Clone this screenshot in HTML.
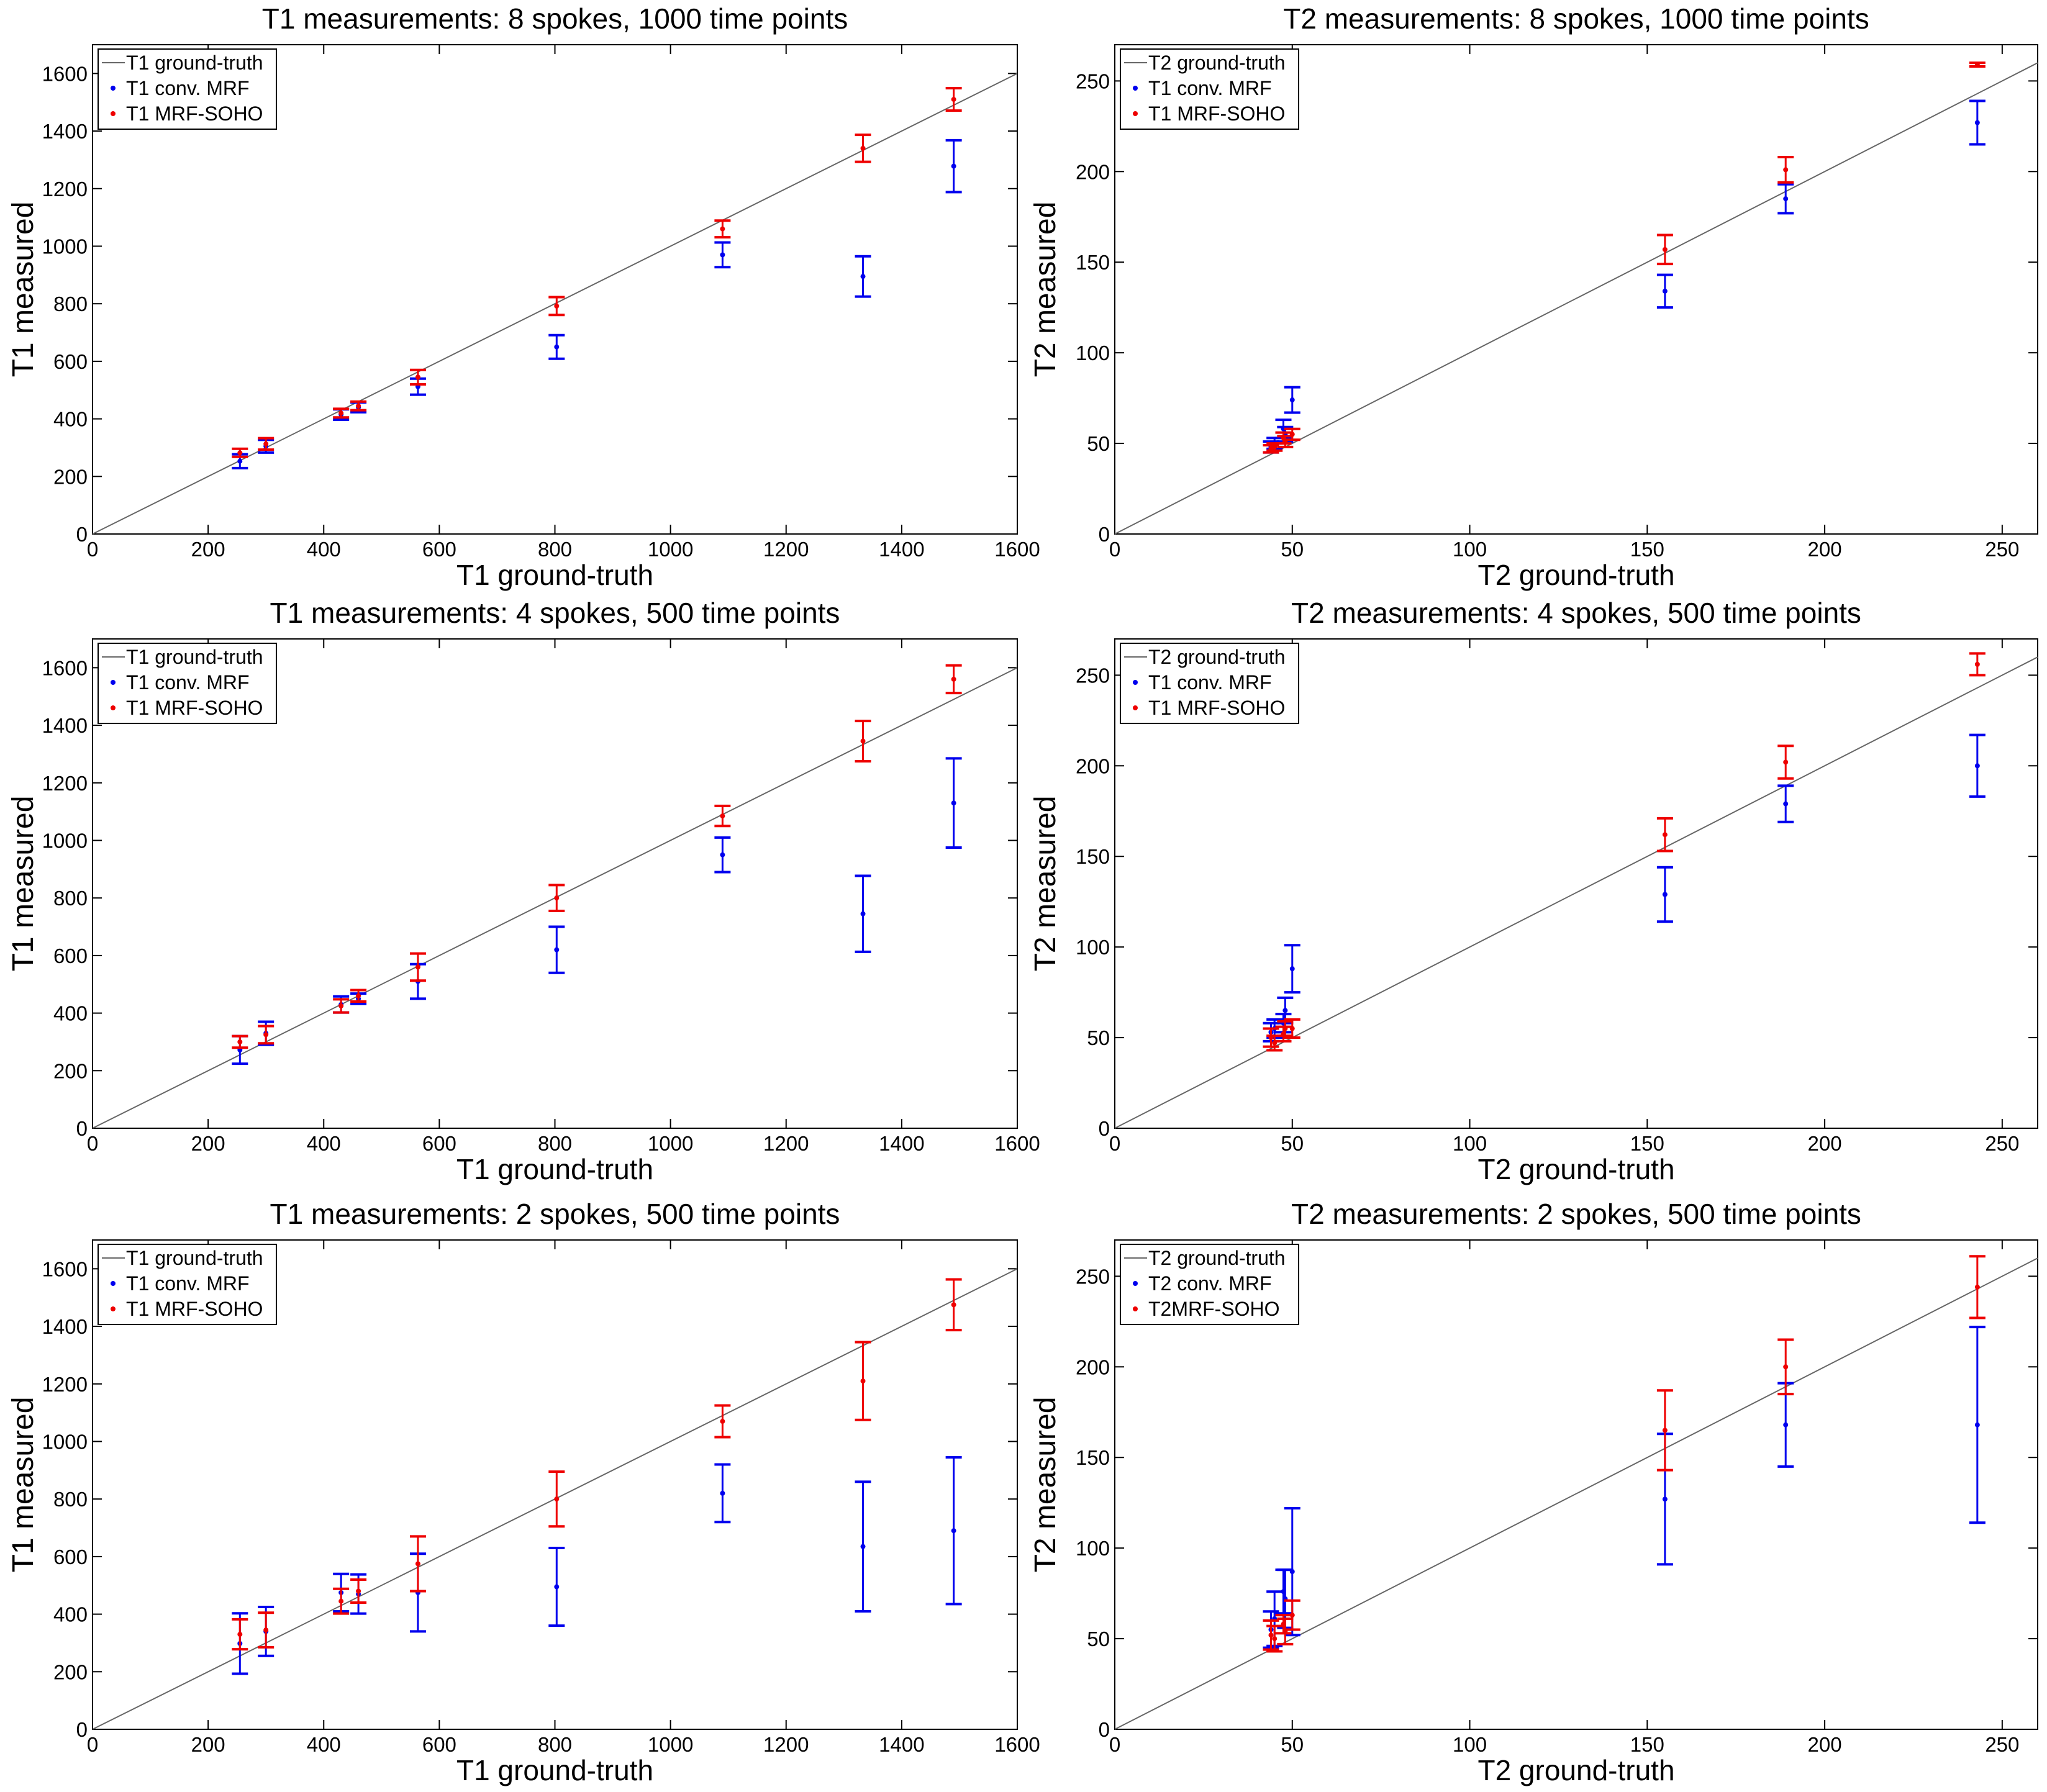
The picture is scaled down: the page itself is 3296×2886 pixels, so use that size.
<!DOCTYPE html>
<html><head><meta charset="utf-8"><style>
html,body{margin:0;padding:0;background:#fff}
svg{display:block}
text{font-family:"Liberation Sans",sans-serif;fill:#000}
</style></head><body>
<svg id="fig" width="3296" height="2886" viewBox="0 0 3296 2886" xmlns="http://www.w3.org/2000/svg"></svg>
<script>
// ---- data ----
const t1Truth = [255, 300, 430, 460, 563, 803, 1090, 1333, 1490];
const t2Truth = [44, 45, 47.5, 48, 50, 155, 189, 243];

const t1ConvMean8 = [253, 305, 415, 440, 512, 650, 970, 895, 1278];
const t1ConvErr8  = [24, 22, 18, 17, 28, 41, 43, 70, 90];
const t1SohoMean8 = [282, 313, 420, 445, 545, 792, 1060, 1340, 1510];
const t1SohoErr8  = [14, 20, 15, 15, 25, 31, 29, 47, 39];

const t1ConvMean4 = [272, 330, 430, 450, 510, 620, 950, 745, 1130];
const t1ConvErr4  = [48, 40, 28, 18, 60, 80, 60, 132, 155];
const t1SohoMean4 = [300, 325, 425, 460, 560, 800, 1085, 1345, 1560];
const t1SohoErr4  = [20, 30, 23, 20, 47, 45, 35, 70, 48];

const t1ConvMean2 = [298, 340, 475, 470, 475, 495, 820, 635, 690];
const t1ConvErr2  = [105, 85, 65, 68, 135, 135, 100, 225, 255];
const t1SohoMean2 = [330, 345, 445, 480, 575, 800, 1070, 1210, 1475];
const t1SohoErr2  = [52, 60, 43, 40, 95, 95, 55, 135, 88];

const t2ConvMean8 = [48, 50, 58, 55, 74, 134, 185, 227];
const t2ConvErr8  = [3, 3, 5, 4, 7, 9, 8, 12];
const t2SohoMean8 = [47, 48, 53, 51, 55, 157, 201, 259];
const t2SohoErr8  = [2, 2, 3, 3, 3, 8, 7, 1];

const t2ConvMean4 = [53, 55, 58, 65, 88, 129, 179, 200];
const t2ConvErr4  = [5, 5, 5, 7, 13, 15, 10, 17];
const t2SohoMean4 = [50, 47, 52, 55, 55, 162, 202, 256];
const t2SohoErr4  = [5, 4, 4, 4, 5, 9, 9, 6];

const t2ConvMean2 = [55, 61, 76, 72, 87, 127, 168, 168];
const t2ConvErr2  = [10, 15, 12, 16, 35, 36, 23, 54];
const t2SohoMean2 = [52, 50, 58, 54, 63, 165, 200, 244];
const t2SohoErr2  = [8, 7, 5, 7, 8, 22, 15, 17];

const t1Ticks = [0, 200, 400, 600, 800, 1000, 1200, 1400, 1600];
const t2Ticks = [0, 50, 100, 150, 200, 250];

const NS = "http://www.w3.org/2000/svg";
const svg = document.getElementById('fig');
function mk(tag, attrs, parent, txt){
  const e = document.createElementNS(NS, tag);
  for (const k in attrs) e.setAttribute(k, attrs[k]);
  if (txt !== undefined) e.textContent = txt;
  (parent || svg).appendChild(e);
  return e;
}

const panels = [
  {id:'t1-8', L:149, R:1638, B:860, T:72, max:1700, xmax:1600, ticks:t1Ticks, truth:t1Truth, cm:t1ConvMean8, ce:t1ConvErr8, sm:t1SohoMean8, se:t1SohoErr8, title:'T1 measurements: 8 spokes, 1000 time points', xl:'T1 ground-truth', yl:'T1 measured', leg:['T1 ground-truth','T1 conv. MRF','T1 MRF-SOHO']},
  {id:'t2-8', L:1795, R:3281, B:860, T:72, max:270, xmax:260, ticks:t2Ticks, truth:t2Truth, cm:t2ConvMean8, ce:t2ConvErr8, sm:t2SohoMean8, se:t2SohoErr8, title:'T2 measurements: 8 spokes, 1000 time points', xl:'T2 ground-truth', yl:'T2 measured', leg:['T2 ground-truth','T1 conv. MRF','T1 MRF-SOHO']},
  {id:'t1-4', L:149, R:1638, B:1817, T:1029, max:1700, xmax:1600, ticks:t1Ticks, truth:t1Truth, cm:t1ConvMean4, ce:t1ConvErr4, sm:t1SohoMean4, se:t1SohoErr4, title:'T1 measurements: 4 spokes, 500 time points', xl:'T1 ground-truth', yl:'T1 measured', leg:['T1 ground-truth','T1 conv. MRF','T1 MRF-SOHO']},
  {id:'t2-4', L:1795, R:3281, B:1817, T:1029, max:270, xmax:260, ticks:t2Ticks, truth:t2Truth, cm:t2ConvMean4, ce:t2ConvErr4, sm:t2SohoMean4, se:t2SohoErr4, title:'T2 measurements: 4 spokes, 500 time points', xl:'T2 ground-truth', yl:'T2 measured', leg:['T2 ground-truth','T1 conv. MRF','T1 MRF-SOHO']},
  {id:'t1-2', L:149, R:1638, B:2785, T:1997, max:1700, xmax:1600, ticks:t1Ticks, truth:t1Truth, cm:t1ConvMean2, ce:t1ConvErr2, sm:t1SohoMean2, se:t1SohoErr2, title:'T1 measurements: 2 spokes, 500 time points', xl:'T1 ground-truth', yl:'T1 measured', leg:['T1 ground-truth','T1 conv. MRF','T1 MRF-SOHO']},
  {id:'t2-2', L:1795, R:3281, B:2785, T:1997, max:270, xmax:260, ticks:t2Ticks, truth:t2Truth, cm:t2ConvMean2, ce:t2ConvErr2, sm:t2SohoMean2, se:t2SohoErr2, title:'T2 measurements: 2 spokes, 500 time points', xl:'T2 ground-truth', yl:'T2 measured', leg:['T2 ground-truth','T2 conv. MRF','T2MRF-SOHO']}
];

panels.forEach(p => {
  const g = mk('g', {});
  
  
  const xs = v => p.L + (v / p.xmax) * (p.R - p.L);
  const ys = v => p.B - (v / p.max) * (p.B - p.T);
  const cx = (p.L + p.R) / 2;

  const title = mk('text', {x:cx, y:p.T - 26, 'font-size':46, 'text-anchor':'middle'}, g, p.title);
  
  

  const box = mk('rect', {x:p.L, y:p.T, width:p.R - p.L, height:p.B - p.T, fill:'#fff', stroke:'#000', 'stroke-width':2}, g);
  
  

  p.ticks.forEach(t => {
    const x = xs(t), y = ys(t);
    mk('line', {x1:x, y1:p.B, x2:x, y2:p.B - 15, stroke:'#000', 'stroke-width':2}, g);
    mk('line', {x1:x, y1:p.T, x2:x, y2:p.T + 15, stroke:'#000', 'stroke-width':2}, g);
    const xt = mk('text', {x:x, y:p.B + 36, 'font-size':33, 'text-anchor':'middle'}, g, String(t));
    
    
    mk('line', {x1:p.L, y1:y, x2:p.L + 15, y2:y, stroke:'#000', 'stroke-width':2}, g);
    mk('line', {x1:p.R, y1:y, x2:p.R - 15, y2:y, stroke:'#000', 'stroke-width':2}, g);
    const yt = mk('text', {x:p.L - 8, y:y + 12, 'font-size':33, 'text-anchor':'end'}, g, String(t));
    
    
  });

  const xl = mk('text', {x:cx, y:p.B + 82, 'font-size':46, 'text-anchor':'middle'}, g, p.xl);
  
  
  const yx = p.L - 96, yy = (p.T + p.B) / 2;
  const yl = mk('text', {x:yx, y:yy, 'font-size':48, 'text-anchor':'middle', transform:'rotate(-90 ' + yx + ' ' + yy + ')'}, g, p.yl);
  
  

  const idl = mk('line', {x1:xs(0), y1:ys(0), x2:xs(p.xmax), y2:ys(p.xmax), stroke:'#666', 'stroke-width':2}, g);
  
  

  function series(means, errs, color, name){
    const sg = mk('g', {stroke:color, fill:color}, g);
    
    
    means.forEach((m, i) => {
      const x = xs(p.truth[i]);
      const y1 = ys(m - errs[i]), y2 = ys(m + errs[i]);
      const eb = mk('g', {}, sg);
      
      
      mk('line', {x1:x, y1:y1, x2:x, y2:y2, 'stroke-width':3}, eb);
      mk('line', {x1:x - 13, y1:y1, x2:x + 13, y2:y1, 'stroke-width':4}, eb);
      mk('line', {x1:x - 13, y1:y2, x2:x + 13, y2:y2, 'stroke-width':4}, eb);
      const pt = mk('circle', {cx:x, cy:ys(m), r:4, stroke:'none'}, sg);
      
      
    });
  }
  series(p.cm, p.ce, '#0000ee', 'conv-mrf-series');
  series(p.sm, p.se, '#ee0000', 'mrf-soho-series');

  const lg = mk('g', {}, g);
  
  
  const lx = p.L + 9, ly = p.T + 7;
  mk('rect', {x:lx, y:ly, width:287, height:129, fill:'#fff', stroke:'#000', 'stroke-width':2}, lg);
  mk('line', {x1:lx + 6, y1:ly + 22, x2:lx + 43, y2:ly + 22, stroke:'#666', 'stroke-width':2}, lg);
  mk('circle', {cx:lx + 24, cy:ly + 63, r:4, fill:'#0000ee'}, lg);
  mk('circle', {cx:lx + 24, cy:ly + 104, r:4, fill:'#ee0000'}, lg);
  p.leg.forEach((t, i) => {
    const le = mk('text', {x:lx + 45, y:ly + 33 + i * 41, 'font-size':32}, lg, t);
    
    
  });
});
</script>
</body></html>
